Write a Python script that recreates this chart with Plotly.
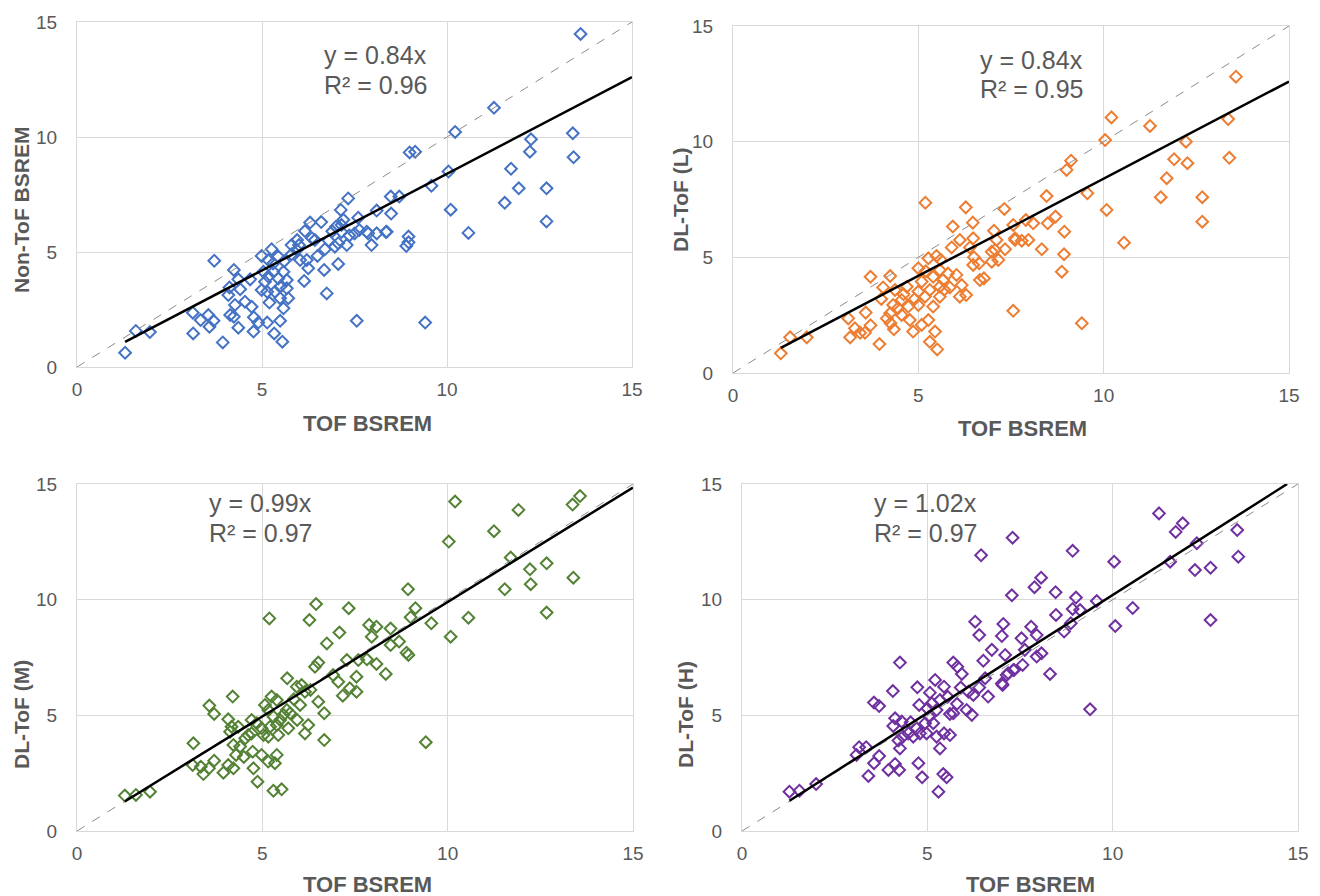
import plotly.graph_objects as go

# ---------------- data ----------------
tick_vals = [0, 5, 10, 15]
x_title = "TOF BSREM"
y_titles = ["Non-ToF BSREM", "DL-ToF (L)", "DL-ToF (M)", "DL-ToF (H)"]
slopes = [0.84, 0.84, 0.99, 1.02]
r2 = [0.96, 0.95, 0.97, 0.97]
colors = ["#4472C4", "#ED7D31", "#548235", "#7030A0"]

x_nontof = [1.30, 1.59, 1.97, 3.13, 3.14, 3.34, 3.55, 3.58, 3.69, 3.71, 3.94, 4.09, 4.12, 4.14, 4.24, 4.24, 4.27, 4.36, 4.36, 4.41,
            4.54, 4.68, 4.72, 4.77, 4.78, 4.90, 4.99, 4.99, 5.04, 5.08, 5.14, 5.14, 5.17, 5.17, 5.20, 5.26, 5.31, 5.33, 5.35, 5.44,
            5.44, 5.49, 5.49, 5.49, 5.55, 5.58, 5.58, 5.67, 5.67, 5.71, 5.94, 5.95, 6.03, 6.14, 6.16, 6.21, 6.25, 6.30, 6.43, 6.50,
            6.68, 6.70, 6.75, 7.06, 6.97, 7.06, 7.13, 7.15, 7.29, 7.33, 7.36, 7.56, 7.60, 7.63, 7.83, 7.96, 8.10, 8.35, 8.48, 8.49,
            8.71, 8.90, 8.96, 8.96, 8.99, 9.14, 9.41, 9.58, 10.04, 10.10, 10.22, 10.58, 11.27, 11.56, 11.73, 11.94, 12.24, 12.27, 12.69, 12.69,
            13.40, 13.42, 13.61, 5.60, 5.80, 6.00, 6.35, 6.90, 7.00, 6.80, 5.30, 7.20, 7.50, 6.60, 5.80, 7.15, 7.87, 8.10, 8.37]
y_nontof = [0.62, 1.57, 1.52, 2.36, 1.46, 2.04, 2.26, 1.75, 2.01, 4.62, 1.07, 3.13, 3.46, 2.26, 2.19, 4.22, 2.70, 3.81, 1.71, 3.38,
            2.84, 3.81, 2.62, 1.54, 2.16, 1.93, 4.83, 3.35, 4.14, 3.71, 3.27, 1.93, 4.65, 3.93, 2.80, 5.12, 4.14, 1.46, 3.27, 4.80,
            3.85, 3.49, 2.99, 2.01, 1.10, 4.14, 2.55, 3.78, 3.42, 2.99, 5.09, 5.52, 4.65, 3.74, 5.91, 4.65, 4.29, 6.28, 5.52, 4.83,
            4.22, 5.12, 3.20, 4.48, 5.23, 5.38, 6.83, 5.87, 5.30, 7.33, 5.72, 2.01, 6.49, 5.96, 5.88, 5.30, 6.80, 5.87, 7.41, 6.67,
            7.41, 5.26, 5.42, 5.67, 9.33, 9.36, 1.93, 7.88, 8.50, 6.84, 10.22, 5.83, 11.27, 7.14, 8.62, 7.77, 9.36, 9.90, 7.77, 6.33,
            10.16, 9.12, 14.48, 4.60, 4.90, 5.30, 5.60, 5.90, 6.10, 5.50, 4.50, 6.40, 5.80, 6.30, 5.30, 6.17, 5.81, 5.81, 5.88]

x_dl_l = [1.29, 1.54, 1.99, 3.11, 3.16, 3.29, 3.43, 3.56, 3.71, 3.58, 3.71, 3.95, 4.24, 4.05, 4.15, 4.25, 4.34, 4.37, 4.55, 4.69,
          4.32, 4.24, 4.73, 4.55, 4.77, 4.86, 5.09, 5.27, 5.45, 5.31, 5.51, 5.00, 5.27, 5.49, 5.58, 5.40, 5.09, 5.58, 5.31, 5.00,
          5.18, 5.58, 5.40, 5.00, 5.67, 6.03, 6.17, 6.12, 6.29, 6.66, 6.77, 6.48, 6.64, 6.98, 7.16, 6.98, 7.56, 5.19, 6.28, 7.32,
          5.93, 6.47, 7.04, 7.56, 7.90, 8.10, 6.12, 6.48, 5.90, 6.39, 7.11, 7.07, 7.34, 7.61, 7.79, 8.33, 8.46, 8.70, 8.49, 8.94,
          8.93, 8.87, 7.97, 7.61, 9.41, 9.00, 9.12, 9.56, 10.04, 10.08, 10.21, 10.55, 11.25, 11.54, 11.70, 11.90, 12.22, 12.26, 12.66, 12.66,
          13.36, 13.39, 13.57, 5.60, 5.80, 4.60, 4.90, 5.20, 5.70, 4.45, 5.85, 6.50, 4.00]
y_dl_l = [0.85, 1.54, 1.54, 2.36, 1.54, 1.93, 1.74, 1.74, 2.06, 2.61, 4.16, 1.25, 4.19, 3.70, 2.36, 2.15, 1.89, 3.59, 3.16, 3.73,
          2.94, 2.58, 2.87, 2.51, 2.29, 1.79, 2.08, 2.29, 1.79, 1.35, 1.02, 4.53, 4.96, 5.06, 4.45, 4.16, 3.95, 3.73, 3.59, 3.52,
          3.30, 3.30, 2.87, 2.94, 4.02, 4.24, 3.80, 3.30, 3.37, 4.02, 4.09, 4.67, 4.74, 4.81, 4.89, 5.24, 2.69, 7.36, 7.16, 7.09,
          6.33, 6.50, 6.15, 6.40, 6.61, 6.47, 5.75, 5.82, 5.43, 5.43, 5.75, 5.32, 5.35, 5.82, 5.72, 5.35, 7.65, 6.76, 6.47, 6.11,
          5.13, 4.38, 5.75, 5.75, 2.15, 8.78, 9.18, 7.77, 10.07, 7.05, 11.05, 5.63, 10.68, 7.60, 8.42, 9.24, 10.00, 9.07, 7.60, 6.54,
          10.98, 9.30, 12.81, 4.90, 4.30, 3.40, 3.20, 4.40, 3.60, 2.80, 3.70, 5.00, 3.20]

x_dl_m = [1.29, 1.59, 1.97, 3.14, 3.12, 3.34, 3.41, 3.56, 3.70, 3.57, 3.70, 3.95, 4.20, 4.08, 4.17, 4.35, 4.13, 4.22, 4.29, 4.22,
          4.08, 4.40, 4.54, 4.62, 4.71, 4.74, 4.76, 4.87, 4.71, 4.85, 4.98, 5.03, 4.98, 5.16, 5.19, 5.07, 5.25, 5.39, 5.16, 5.30,
          5.21, 5.16, 5.39, 5.48, 5.57, 5.66, 5.75, 5.43, 5.70, 5.39, 5.34, 5.30, 5.52, 5.67, 5.93, 6.06, 6.02, 6.15, 5.94, 6.15,
          6.24, 6.51, 6.67, 6.67, 6.42, 6.51, 6.74, 7.08, 6.27, 6.45, 7.33, 7.28, 6.91, 7.05, 7.17, 7.36, 7.54, 7.54, 7.59, 7.82,
          8.08, 8.33, 7.88, 8.08, 7.95, 8.46, 8.69, 8.46, 8.89, 8.94, 8.93, 9.13, 9.00, 9.56, 9.41, 10.03, 10.08, 10.20, 10.56, 11.25,
          11.54, 11.70, 11.91, 12.22, 12.24, 12.67, 12.67, 13.37, 13.39, 13.57, 5.85, 6.30, 4.50]
y_dl_m = [1.53, 1.56, 1.70, 3.79, 2.85, 2.78, 2.46, 2.71, 3.04, 5.42, 5.06, 2.52, 5.81, 4.83, 4.51, 4.51, 4.29, 3.72, 3.29, 2.71,
          2.85, 3.65, 4.01, 4.15, 4.22, 3.43, 2.71, 2.13, 4.80, 4.66, 4.44, 4.15, 3.29, 3.00, 9.19, 5.45, 5.81, 5.66, 5.23, 4.94,
          4.51, 4.08, 4.58, 4.80, 5.02, 5.23, 5.09, 4.15, 4.44, 3.29, 2.93, 1.74, 1.80, 6.60, 6.24, 6.31, 5.45, 6.02, 4.80, 4.22,
          4.58, 5.59, 5.09, 3.93, 7.10, 7.28, 8.11, 8.58, 9.12, 9.81, 9.63, 7.39, 6.74, 6.45, 5.85, 6.17, 6.67, 6.02, 7.39, 7.42,
          7.22, 6.79, 8.91, 8.83, 8.40, 8.75, 8.19, 8.04, 7.71, 7.61, 10.45, 9.63, 9.24, 8.98, 3.84, 12.51, 8.40, 14.24, 9.22, 12.96,
          10.45, 11.82, 13.88, 11.31, 10.67, 11.57, 9.44, 14.11, 10.95, 14.48, 5.70, 6.10, 3.20]

x_dl_h = [1.28, 1.55, 2.00, 3.09, 3.16, 3.35, 3.70, 3.56, 3.41, 3.95, 4.13, 4.24, 3.56, 3.70, 4.07, 4.26, 4.13, 4.08, 4.31, 4.22,
          4.26, 4.34, 4.49, 4.62, 4.73, 4.78, 4.71, 4.76, 4.86, 4.80, 4.94, 4.98, 5.05, 5.07, 5.21, 5.12, 5.16, 5.25, 5.34, 5.45,
          5.70, 5.81, 5.93, 5.25, 5.34, 5.45, 5.61, 5.61, 5.70, 6.06, 6.20, 6.11, 6.24, 5.43, 5.52, 5.30, 6.45, 6.29, 6.40, 6.74,
          6.51, 6.64, 7.01, 7.18, 7.34, 6.56, 7.05, 7.80, 7.95, 7.54, 7.01, 7.10, 7.63, 7.95, 8.08, 8.31, 7.32, 7.57, 7.14, 7.03,
          7.30, 7.28, 8.07, 7.89, 8.46, 9.01, 9.57, 8.92, 9.12, 8.47, 8.87, 8.69, 8.92, 9.39, 10.04, 10.07, 10.54, 11.25, 11.55, 11.70,
          11.89, 12.22, 12.27, 12.64, 12.64, 13.36, 13.39, 5.55, 5.80, 5.00, 4.55, 5.90, 6.40]
y_dl_h = [1.70, 1.74, 2.03, 3.29, 3.62, 3.62, 3.24, 2.93, 2.38, 2.64, 2.90, 2.64, 5.55, 5.40, 6.05, 7.28, 4.87, 4.54, 4.73, 3.91,
          3.57, 4.08, 4.22, 4.08, 6.21, 5.45, 4.44, 2.93, 2.32, 4.22, 4.66, 4.22, 4.94, 5.98, 6.53, 5.52, 4.66, 5.23, 5.66, 6.24,
          7.28, 7.10, 6.79, 4.08, 3.57, 4.22, 4.15, 5.06, 5.09, 5.23, 5.02, 6.02, 5.88, 2.46, 2.32, 1.70, 11.92, 9.05, 8.47, 7.83,
          7.36, 5.81, 6.38, 6.82, 6.96, 6.60, 8.95, 8.83, 8.47, 8.33, 8.43, 7.61, 7.83, 7.54, 7.68, 6.79, 6.96, 7.18, 6.74, 6.31,
          12.68, 10.19, 10.95, 10.54, 10.32, 10.09, 9.94, 9.60, 9.55, 9.34, 8.98, 8.62, 12.11, 5.26, 11.64, 8.86, 9.64, 13.73, 11.64, 12.93,
          13.30, 11.28, 12.44, 11.38, 9.12, 13.01, 11.86, 5.80, 5.50, 5.30, 4.70, 6.20, 6.20]

xs = [x_nontof, x_dl_l, x_dl_m, x_dl_h]
ys = [y_nontof, y_dl_l, y_dl_m, y_dl_h]

# ---------------- layout geometry (screen pixels) ----------------
OFF = 8                      # page body margin in the browser
W, H = 1320 - OFF, 896 - OFF  # figure size that fits the window
# plot areas on screen: (left, right, top, bottom)
areas = [(77, 632, 22, 367), (733, 1289, 26, 373), (77, 633, 484, 831), (742, 1298, 484, 831)]
xtitle_pos = [(367, 423), (1022, 428), (367, 884), (1030, 884)]
ytitle_pos = [(21, 210), (680, 200), (21, 715), (685, 715)]
eq_pos = [(6.62, 13.57, 12.26), (6.61, 13.53, 12.28), (3.51, 14.18, 12.88), (3.51, 14.18, 12.88)]


def px_x(p):
    return (p - OFF) / W


def px_y(p):
    return 1 - (p - OFF) / H


TXT = "#595959"
GRID = "#d9d9d9"
FONT = "Liberation Sans, Arial, Helvetica, sans-serif"

fig = go.Figure()
layout = dict(width=W, height=H, margin=dict(l=0, r=0, t=0, b=0, autoexpand=False),
              paper_bgcolor="white", plot_bgcolor="white", showlegend=False,
              font=dict(family=FONT, color=TXT))
annotations = []

for i in range(4):
    n = "" if i == 0 else str(i + 1)
    xa, ya = "x" + n, "y" + n
    l, r, t, b = areas[i]
    layout["xaxis" + n] = dict(domain=[px_x(l), px_x(r)], range=[0, 15], anchor=ya, automargin=False,
                               tickvals=tick_vals, ticks="", showgrid=True, gridcolor=GRID, gridwidth=1,
                               zeroline=False, showline=True, mirror=True, linecolor=GRID, linewidth=1,
                               tickfont=dict(size=19, color=TXT, family=FONT), ticklabelstandoff=5,
                               fixedrange=True)
    layout["yaxis" + n] = dict(domain=[px_y(b), px_y(t)], range=[0, 15], anchor=xa, automargin=False,
                               tickvals=tick_vals, ticks="", showgrid=True, gridcolor=GRID, gridwidth=1,
                               zeroline=False, showline=True, mirror=True, linecolor=GRID, linewidth=1,
                               tickfont=dict(size=19, color=TXT, family=FONT), ticklabelstandoff=15,
                               fixedrange=True)
    # scatter points
    fig.add_trace(go.Scatter(x=xs[i], y=ys[i], mode="markers", xaxis=xa, yaxis=ya,
                             marker=dict(symbol="diamond-open", size=9, color=colors[i],
                                         line=dict(width=2, color=colors[i]))))
    # identity line
    fig.add_trace(go.Scatter(x=[0, 15], y=[0, 15], mode="lines", xaxis=xa, yaxis=ya,
                             line=dict(color="#8c8c8c", width=1, dash="dash")))
    # trend line through origin
    x0 = min(xs[i])
    x1 = min(15, 15 / slopes[i])
    fig.add_trace(go.Scatter(x=[x0, x1], y=[slopes[i] * x0, slopes[i] * x1], mode="lines",
                             xaxis=xa, yaxis=ya, line=dict(color="black", width=2.5)))
    # equation text
    ex, ey1, ey2 = eq_pos[i]
    annotations.append(dict(x=ex, y=ey1, xref=xa, yref=ya, text=f"y = {slopes[i]:.2f}x",
                            showarrow=False, xanchor="left", yanchor="middle",
                            font=dict(size=25, color=TXT, family=FONT)))
    annotations.append(dict(x=ex, y=ey2, xref=xa, yref=ya, text=f"R² = {r2[i]:.2f}",
                            showarrow=False, xanchor="left", yanchor="middle",
                            font=dict(size=25, color=TXT, family=FONT)))
    # axis titles
    tx, ty = xtitle_pos[i]
    annotations.append(dict(x=px_x(tx), y=px_y(ty), xref="paper", yref="paper", text=f"<b>{x_title}</b>",
                            showarrow=False, xanchor="center", yanchor="middle",
                            font=dict(size=22, color=TXT, family=FONT)))
    yx, yy = ytitle_pos[i]
    annotations.append(dict(x=px_x(yx), y=px_y(yy), xref="paper", yref="paper", text=f"<b>{y_titles[i]}</b>",
                            showarrow=False, xanchor="center", yanchor="middle", textangle=-90,
                            font=dict(size=21, color=TXT, family=FONT)))

layout["annotations"] = annotations
fig.update_layout(**layout)
fig.write_html("out.html")
